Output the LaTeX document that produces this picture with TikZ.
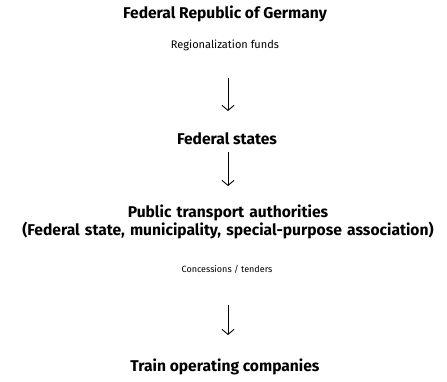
\documentclass[tikz,border=0pt]{standalone}
\usepackage{fontspec}
\setmainfont{Fira Sans}
\usetikzlibrary{arrows.meta}
\begin{document}
\begin{tikzpicture}[x=1pt,y=-1pt,
  lvl/.style={font=\fontsize{15.6}{18}\selectfont\bfseries, align=center, inner sep=0pt},
  lbl/.style={font=\fontsize{9}{11}\selectfont, inner sep=0pt},
  flow/.style={line width=0.9pt, -{Straight Barb[length=5pt,width=12pt,line width=0.9pt]}}]
\useasboundingbox (0,0) rectangle (447,382);
\node[lvl] (frg) at (225,14) {Federal Republic of Germany};
\node[lbl, font=\fontsize{11}{13}\selectfont] (rf) at (225,45) {Regionalization funds};
\coordinate (a1s) at (228,78);
\coordinate (a1e) at (228,111);
\node[lvl] (fs) at (227,139) {Federal states};
\coordinate (a2s) at (228,152);
\coordinate (a2e) at (228,186);
\node[lvl, text width=440pt] (pta) at (228,222) {Public transport authorities\\(Federal state, municipality, special-purpose association)};
\node[lbl] (ct) at (227,269) {Concessions / tenders};
\coordinate (a3s) at (228,305);
\coordinate (a3e) at (228,335);
\node[lvl] (toc) at (225,367) {Train operating companies};
\draw[flow] (a1s) -- (a1e);
\draw[flow] (a2s) -- (a2e);
\draw[flow] (a3s) -- (a3e);
\end{tikzpicture}
\end{document}
